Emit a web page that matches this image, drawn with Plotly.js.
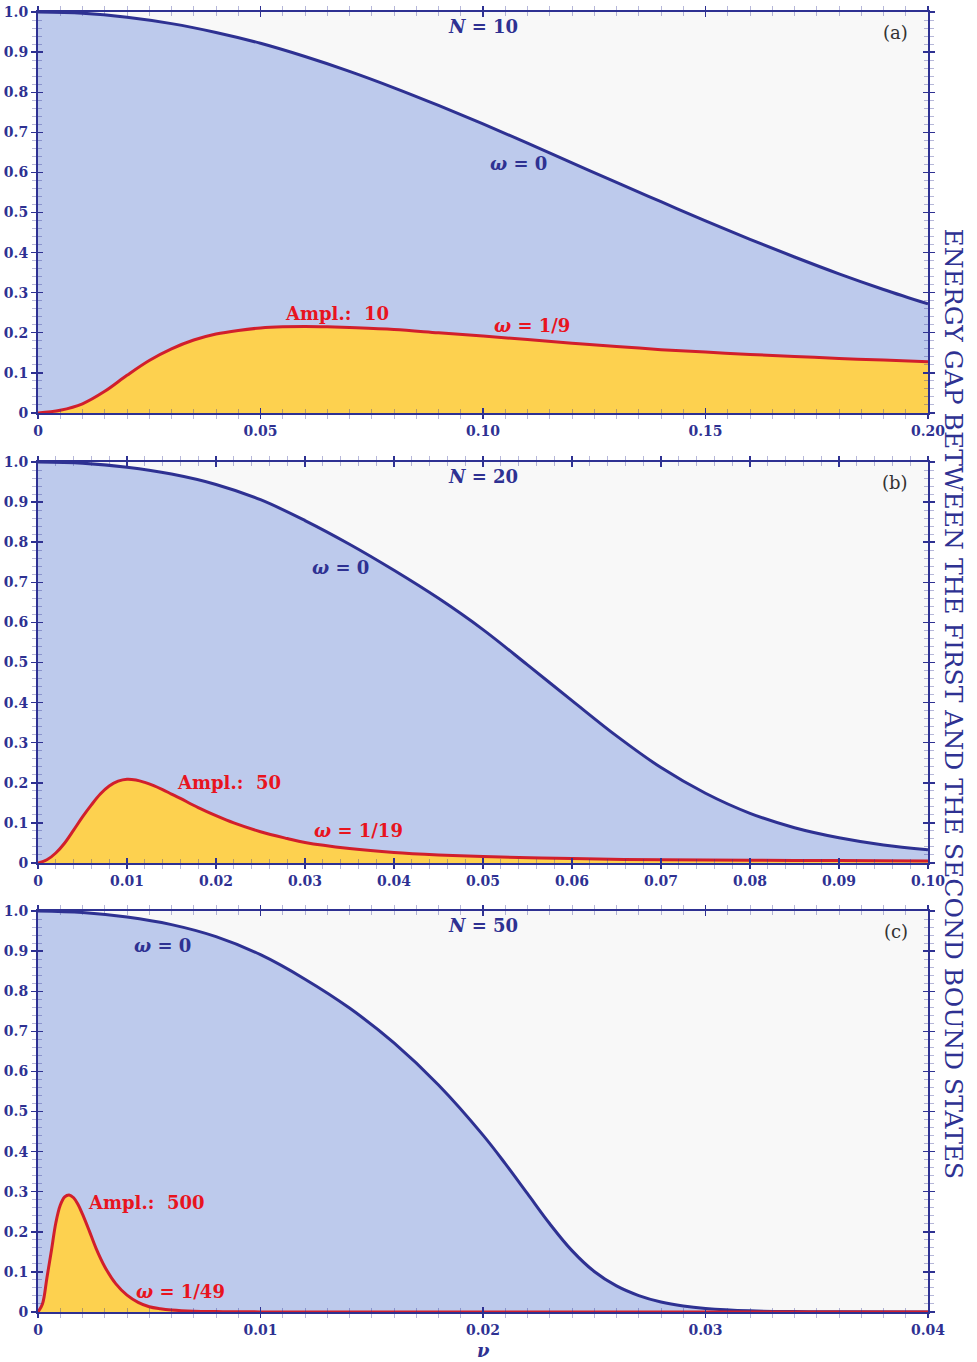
<!DOCTYPE html>
<html><head><meta charset="utf-8">
<script src="https://cdn.plot.ly/plotly-3.0.1.min.js"></script>
<style>html,body{margin:0;padding:0;background:#fff}</style>
</head><body><div id="chart" style="width:977px;height:1362px"></div>
<script>
// ---------- data ----------
// Panel (a): N = 10
const xA_w0 = [0,0.01,0.02,0.03,0.04,0.05,0.06,0.07,0.08,0.09,0.10,0.11,0.12,0.13,0.14,0.15,0.16,0.17,0.18,0.19,0.20];
const yA_w0 = [1.000,0.997,0.987,0.971,0.949,0.922,0.889,0.852,0.811,0.767,0.721,0.673,0.624,0.575,0.527,0.479,0.433,0.389,0.347,0.308,0.272];
const xA_w1 = [0,0.005,0.01,0.015,0.02,0.025,0.03,0.035,0.04,0.045,0.05,0.055,0.06,0.065,0.07,0.08,0.09,0.10,0.11,0.12,0.13,0.14,0.15,0.16,0.17,0.18,0.19,0.20];
const yA_w1 = [0,0.007,0.023,0.054,0.094,0.131,0.160,0.182,0.197,0.206,0.212,0.215,0.216,0.215,0.213,0.208,0.200,0.192,0.183,0.174,0.166,0.158,0.152,0.146,0.141,0.136,0.132,0.128];
// Panel (b): N = 20
const xB_w0 = [0,0.005,0.01,0.015,0.02,0.025,0.03,0.035,0.04,0.045,0.05,0.055,0.06,0.065,0.07,0.075,0.08,0.085,0.09,0.095,0.10];
const yB_w0 = [1.000,0.997,0.987,0.970,0.944,0.906,0.854,0.795,0.730,0.660,0.582,0.494,0.405,0.317,0.238,0.174,0.124,0.088,0.063,0.045,0.033];
const xB_w1 = [0,0.001,0.002,0.003,0.004,0.005,0.006,0.007,0.008,0.009,0.010,0.011,0.012,0.013,0.014,0.015,0.016,0.018,0.020,0.022,0.025,0.028,0.030,0.035,0.040,0.045,0.050,0.060,0.070,0.080,0.090,0.100];
const yB_w1 = [0,0.008,0.025,0.050,0.082,0.115,0.145,0.172,0.192,0.204,0.209,0.207,0.201,0.193,0.183,0.172,0.161,0.138,0.118,0.100,0.078,0.061,0.051,0.036,0.026,0.020,0.016,0.011,0.008,0.007,0.006,0.005];
// Panel (c): N = 50
const xC_w0 = [0,0.002,0.004,0.006,0.008,0.010,0.012,0.014,0.016,0.018,0.020,0.021,0.022,0.023,0.024,0.025,0.026,0.027,0.028,0.029,0.030,0.032,0.034,0.036,0.040];
const yC_w0 = [1.000,0.996,0.985,0.966,0.936,0.891,0.830,0.758,0.671,0.566,0.441,0.370,0.295,0.220,0.153,0.101,0.065,0.041,0.025,0.015,0.009,0.003,0.001,0.0005,0];
const xC_w1 = [0,0.0002,0.0004,0.0006,0.0008,0.0010,0.0012,0.0014,0.0016,0.0018,0.0020,0.0023,0.0026,0.0030,0.0035,0.0040,0.0045,0.0050,0.0055,0.0060,0.0070,0.0080,0.0100,0.0400];
const yC_w1 = [0,0.020,0.085,0.152,0.222,0.266,0.287,0.292,0.285,0.268,0.244,0.203,0.160,0.113,0.070,0.042,0.024,0.013,0.008,0.005,0.002,0.001,0.0003,0];

// tick labels
const yTickVals = [0,0.1,0.2,0.3,0.4,0.5,0.6,0.7,0.8,0.9,1.0];
const yTickText = ["0","0.1","0.2","0.3","0.4","0.5","0.6","0.7","0.8","0.9","1.0"];
const xA_tickVals = [0,0.05,0.10,0.15,0.20];
const xA_tickText = ["0","0.05","0.10","0.15","0.20"];
const xB_tickVals = [0,0.01,0.02,0.03,0.04,0.05,0.06,0.07,0.08,0.09,0.10];
const xB_tickText = ["0","0.01","0.02","0.03","0.04","0.05","0.06","0.07","0.08","0.09","0.10"];
const xC_tickVals = [0,0.01,0.02,0.03,0.04];
const xC_tickText = ["0","0.01","0.02","0.03","0.04"];

// labels
const nLabels = ["10","20","50"];
const panelLetters = ["(a)","(b)","(c)"];
const amplLabels = ["Ampl.:  10","Ampl.:  50","Ampl.:  500"];
const omegaLabels = ["1/9","1/19","1/49"];

// ---------- styling ----------
const C = '#2e3192';
const CMinor = 'rgba(46,49,146,0.35)';
const RED = '#d11f2c';
const REDTXT = '#e8141e';
const F = 'DejaVu Serif';

const panels = [
  {xs0:xA_w0, ys0:yA_w0, xs1:xA_w1, ys1:yA_w1, range:[0,0.2], tv:xA_tickVals, tt:xA_tickText, minor:0.005, dom:[0.69154,1],
   ann:{N:[0.1,0.963], L:[0.2,0.95], w0:[0.108,0.621], amp:[0.0672,0.247], w1:[0.111,0.219]}},
  {xs0:xB_w0, ys0:yB_w0, xs1:xB_w1, ys1:yB_w1, range:[0,0.1], tv:xB_tickVals, tt:xB_tickText, minor:0.002, dom:[0.34538,0.65385],
   ann:{N:[0.05,0.963], L:[0.1,0.95], w0:[0.034,0.738], amp:[0.0215,0.202], w1:[0.036,0.082]}},
  {xs0:xC_w0, ys0:yC_w0, xs1:xC_w1, ys1:yC_w1, range:[0,0.04], tv:xC_tickVals, tt:xC_tickText, minor:0.001, dom:[0,0.30846],
   ann:{N:[0.02,0.963], L:[0.04,0.95], w0:[0.0056,0.913], amp:[0.00485,0.272], w1:[0.0064,0.05]}}
];

const traces = [];
const layout = {
  width:977, height:1362,
  margin:{l:38, r:49, t:12, b:50, pad:0},
  paper_bgcolor:'#ffffff', plot_bgcolor:'#f8f8f8',
  showlegend:false,
  annotations:[], font:{family:F, color:C}
};

function ax(id){ return id===1 ? '' : String(id); }

panels.forEach((p, i) => {
  const k = i+1, ko = i+4;
  const xid = 'x'+ax(k), yid = 'y'+ax(k);
  const xo = 'x'+ko, yo = 'y'+ko;
  traces.push({x:p.xs0, y:p.ys0, xaxis:xid, yaxis:yid, type:'scatter', mode:'lines',
    line:{color:C, width:3, shape:'spline', smoothing:1}, fill:'tozeroy', fillcolor:'#bdcaec', hoverinfo:'skip'});
  traces.push({x:p.xs1, y:p.ys1, xaxis:xid, yaxis:yid, type:'scatter', mode:'lines',
    line:{color:RED, width:3, shape:'spline', smoothing:1}, fill:'tozeroy', fillcolor:'#fdd14f', hoverinfo:'skip'});
  traces.push({x:[null], y:[null], xaxis:xo, yaxis:yo, type:'scatter', mode:'lines', hoverinfo:'skip'});

  const common = {showgrid:false, zeroline:false, fixedrange:true, tickmode:'array', tickcolor:C, tickwidth:1.4};
  layout['xaxis'+ax(k)] = Object.assign({}, common, {
    anchor:yid, domain:[0,1], range:p.range, tickvals:p.tv, ticktext:p.tt,
    ticks:'outside', ticklen:4, showline:true, linecolor:C, linewidth:2, mirror:'ticks',
    tickfont:{family:F, size:14, color:C, weight:'bold'},
    minor:{tickmode:'linear', tick0:0, dtick:p.minor, ticks:'outside', ticklen:4, tickcolor:CMinor, tickwidth:1, showgrid:false}
  });
  layout['yaxis'+ax(k)] = Object.assign({}, common, {
    anchor:xid, domain:p.dom, range:[0,1], tickvals:yTickVals, ticktext:yTickText,
    ticks:'outside', ticklen:5, showline:true, linecolor:C, linewidth:2, mirror:'ticks',
    tickfont:{family:F, size:14, color:C, weight:'bold'},
    minor:{tickmode:'linear', tick0:0, dtick:0.02, ticks:'outside', ticklen:4, tickcolor:CMinor, tickwidth:1, showgrid:false}
  });
  layout['xaxis'+ko] = Object.assign({}, common, {
    overlaying:xid, anchor:yo, range:p.range, tickvals:p.tv, showticklabels:false,
    ticks:'inside', ticklen:5, showline:false, mirror:'ticks',
    minor:{tickmode:'linear', tick0:0, dtick:p.minor, ticks:'inside', ticklen:4, tickcolor:CMinor, tickwidth:1, showgrid:false}
  });
  layout['yaxis'+ko] = Object.assign({}, common, {
    overlaying:yid, anchor:xo, range:[0,1], tickvals:yTickVals, showticklabels:false,
    ticks:'inside', ticklen:5, showline:false, mirror:'ticks',
    minor:{tickmode:'linear', tick0:0, dtick:0.02, ticks:'inside', ticklen:4, tickcolor:CMinor, tickwidth:1, showgrid:false}
  });

  const a = p.ann;
  const base = {xref:xid, yref:yid, showarrow:false, xanchor:'center', yanchor:'middle'};
  layout.annotations.push(Object.assign({}, base, {x:a.N[0], y:a.N[1], text:'<b><i>N</i> = '+nLabels[i]+'</b>', font:{family:F, size:18, color:C}}));
  layout.annotations.push(Object.assign({}, base, {x:a.L[0], y:a.L[1], xanchor:'right', xshift:-18, text:panelLetters[i], font:{family:F, size:18, color:'#333333'}}));
  layout.annotations.push(Object.assign({}, base, {x:a.w0[0], y:a.w0[1], text:'<b><i>ω</i> = 0</b>', font:{family:F, size:18, color:C}}));
  layout.annotations.push(Object.assign({}, base, {x:a.amp[0], y:a.amp[1], text:'<b>'+amplLabels[i]+'</b>', font:{family:F, size:18, color:REDTXT}}));
  layout.annotations.push(Object.assign({}, base, {x:a.w1[0], y:a.w1[1], text:'<b><i>ω</i> = '+omegaLabels[i]+'</b>', font:{family:F, size:18, color:REDTXT}}));
});

layout.annotations.push({xref:'paper', yref:'paper', x:0.5, y:-0.0293, xanchor:'center', yanchor:'middle', showarrow:false,
  text:'<b><i>ν</i></b>', font:{family:F, size:18, color:C}});
layout.annotations.push({xref:'paper', yref:'paper', x:1.0281, y:0.468, xanchor:'center', yanchor:'middle', showarrow:false,
  textangle:90, text:'ENERGY GAP BETWEEN THE FIRST AND THE SECOND BOUND STATES', font:{family:F, size:25, color:C}});

Plotly.newPlot('chart', traces, layout, {staticPlot:true, displayModeBar:false});
</script></body></html>
